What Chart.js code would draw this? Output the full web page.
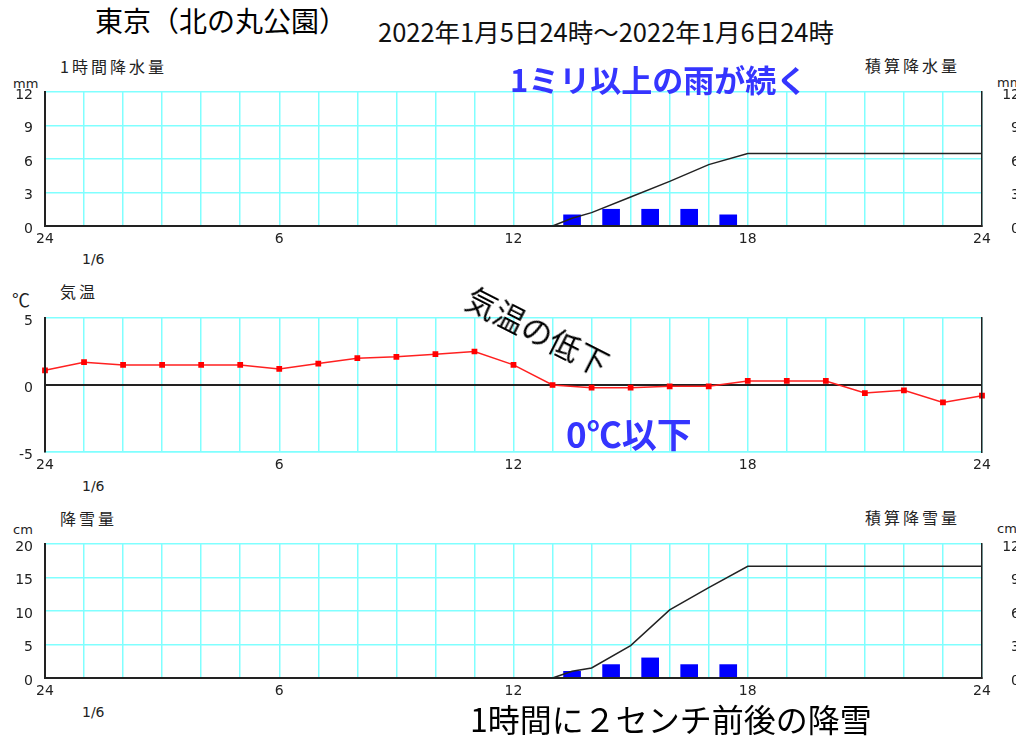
<!DOCTYPE html>
<html lang="ja">
<head>
<meta charset="utf-8">
<title>東京（北の丸公園）</title>
<script src="https://cdn.jsdelivr.net/npm/chart.js@4"></script>
<style>
  body { margin: 0; width: 1016px; height: 737px; overflow: hidden; background: #fff; position: relative; font-family: "Noto Sans CJK JP", sans-serif; }
  .painel { position: absolute; left: 0; }
  .txt { position: absolute; white-space: nowrap; line-height: 1; color: #222; }
  .rot { font-size: 16px; letter-spacing: 3px; }
  .un { font-family: "DejaVu Sans", sans-serif; font-size: 13px; }
  .dia { font-family: "DejaVu Sans", sans-serif; font-size: 14px; left: 82px; }
  .azul { color: #3535ff; font-weight: bold; }
</style>
</head>
<body>

<div class="txt" style="left:95px;top:6px;font-size:28px;color:#000">東京（北の丸公園）</div>
<div class="txt" style="left:378px;top:18px;font-size:25.5px;color:#111">2022年1月5日24時～2022年1月6日24時</div>

<div class="txt rot" style="left:60px;top:58px">1時間降水量</div>
<div class="txt rot" style="left:865px;top:57px">積算降水量</div>
<div class="txt un" style="left:13px;top:77px">mm</div>
<div class="txt un" style="left:997px;top:76px">mm</div>
<div class="txt dia" style="top:252px">1/6</div>

<div class="txt rot" style="left:60px;top:283px">気温</div>
<div class="txt" style="left:12px;top:290px;font-size:18px">℃</div>
<div class="txt dia" style="top:479px">1/6</div>

<div class="txt rot" style="left:60px;top:510px">降雪量</div>
<div class="txt rot" style="left:865px;top:509px">積算降雪量</div>
<div class="txt un" style="left:13px;top:523px">cm</div>
<div class="txt un" style="left:997px;top:522px">cm</div>
<div class="txt dia" style="top:705px">1/6</div>

<div class="painel" style="top:80px"><canvas id="chuva" width="1040" height="174"></canvas></div>
<div class="painel" style="top:306px"><canvas id="temp" width="1040" height="174"></canvas></div>
<div class="painel" style="top:532px"><canvas id="neve" width="1040" height="174"></canvas></div>

<!-- anotações por cima dos gráficos -->
<div class="txt azul" style="left:510px;top:63px;font-size:31px">1ミリ以上の雨が続く</div>
<div class="txt" style="left:460px;top:314px;font-size:31px;color:#000;transform:rotate(27deg);transform-origin:50% 55%">気温の低下</div>
<div class="txt azul" style="left:566px;top:415px;font-size:35px">0℃以下</div>
<div class="txt" style="left:470px;top:702px;font-size:32px;color:#000">1時間に２センチ前後の降雪</div>

<script>
// dados
const xTicks = [0, 6, 12, 18, 24];
const xTickLabels = ['24', '6', '12', '18', '24'];

const horasTemp = [0, 1, 2, 3, 4, 5, 6, 7, 8, 9, 10, 11, 12, 13, 14, 15, 16, 17, 18, 19, 20, 21, 22, 23, 24];
const temperatura = [1.1, 1.7, 1.5, 1.5, 1.5, 1.5, 1.2, 1.6, 2.0, 2.1, 2.3, 2.5, 1.5, 0.0, -0.2, -0.2, -0.1, -0.1, 0.3, 0.3, 0.3, -0.6, -0.4, -1.3, -0.8];

const horasBarra = [13.5, 14.5, 15.5, 16.5, 17.5];
const chuvaHora = [1.0, 1.5, 1.5, 1.5, 1.0];
const neveHora = [1, 2, 3, 2, 2];

const horasAcum = [13, 13.5, 14, 15, 16, 17, 18, 24];
const chuvaAcum = [0, 0.7, 1.2, 2.6, 4.0, 5.5, 6.5, 6.5];
const neveAcum = [0, 0.6, 0.9, 2.9, 6.1, 8.1, 10, 10];

const CIANO = '#80ffff';
const PRETO = '#222';
const fonteEixo = { family: 'DejaVu Sans', size: 14 };

function pares(xs, ys) {
  return xs.map((x, i) => ({ x: x, y: ys[i] }));
}

function eixoX(corBorda, larguraBorda) {
  return {
    type: 'linear', min: 0, max: 24, offset: false,
    ticks: {
      stepSize: 1, autoSkip: false, maxRotation: 0, padding: 5, color: PRETO, font: fonteEixo,
      callback: (v) => { const i = xTicks.indexOf(v); return i >= 0 ? xTickLabels[i] : ''; }
    },
    grid: { color: CIANO, lineWidth: 1.5, drawTicks: false, offset: false },
    border: { color: corBorda, width: larguraBorda, z: 1 },
    afterFit: (s) => { s.height = 28; }
  };
}

function eixoY(min, max, passo, linhaZero) {
  return {
    type: 'linear', position: 'left', min: min, max: max,
    ticks: { stepSize: passo, padding: 12, labelOffset: 3, color: PRETO, font: fonteEixo },
    grid: {
      drawTicks: false,
      color: (c) => (linhaZero && c.tick && c.tick.value === 0) ? PRETO : CIANO,
      lineWidth: (c) => (linhaZero && c.tick && c.tick.value === 0) ? 2 : 1.5
    },
    border: { color: PRETO, width: 2, z: 1 },
    afterFit: (s) => { s.width = 45; s.paddingTop = 0; s.paddingBottom = 0; }
  };
}

function eixoY2(max, passo, mostra) {
  return {
    type: 'linear', position: 'right', min: 0, max: max,
    ticks: { display: mostra, stepSize: passo, crossAlign: 'far', labelOffset: 3, color: PRETO, font: fonteEixo },
    grid: { drawOnChartArea: false, drawTicks: false },
    border: { color: PRETO, width: 1.5, z: 1 },
    afterFit: (s) => { s.width = 38; s.paddingTop = 0; s.paddingBottom = 0; }
  };
}

const opcoesBase = {
  responsive: false,
  animation: false,
  layout: { padding: { left: 0, right: 20, top: 12, bottom: 0 } },
  plugins: { legend: { display: false }, tooltip: { enabled: false } }
};

// 1時間降水量 + 積算降水量
new Chart(document.getElementById('chuva'), {
  type: 'bar',
  data: {
    datasets: [{
      type: 'line',
      data: pares(horasAcum, chuvaAcum),
      yAxisID: 'y2',
      borderColor: PRETO, borderWidth: 1.5, pointRadius: 0
    }, {
      type: 'bar',
      data: pares(horasBarra, chuvaHora),
      yAxisID: 'y',
      backgroundColor: '#0000ff', barThickness: 17
    }]
  },
  options: Object.assign({}, opcoesBase, {
    scales: { x: eixoX(PRETO, 2), y: eixoY(0, 12, 3, false), y2: eixoY2(12, 3, true) }
  })
});

// 気温
new Chart(document.getElementById('temp'), {
  type: 'line',
  data: {
    datasets: [{
      data: pares(horasTemp, temperatura),
      yAxisID: 'y',
      borderColor: '#ff2020', borderWidth: 1.5,
      pointStyle: 'rect', pointRadius: 3,
      pointBackgroundColor: '#ff0000', pointBorderColor: '#ff0000',
      clip: false
    }]
  },
  options: Object.assign({}, opcoesBase, {
    scales: { x: eixoX(CIANO, 1.5), y: eixoY(-5, 5, 5, true), y2: eixoY2(12, 3, false) }
  })
});

// 降雪量 + 積算降雪量
new Chart(document.getElementById('neve'), {
  type: 'bar',
  data: {
    datasets: [{
      type: 'line',
      data: pares(horasAcum, neveAcum),
      yAxisID: 'y2',
      borderColor: PRETO, borderWidth: 1.5, pointRadius: 0
    }, {
      type: 'bar',
      data: pares(horasBarra, neveHora),
      yAxisID: 'y',
      backgroundColor: '#0000ff', barThickness: 17
    }]
  },
  options: Object.assign({}, opcoesBase, {
    scales: { x: eixoX(PRETO, 2), y: eixoY(0, 20, 5, false), y2: eixoY2(12, 3, true) }
  })
});
</script>
</body>
</html>
